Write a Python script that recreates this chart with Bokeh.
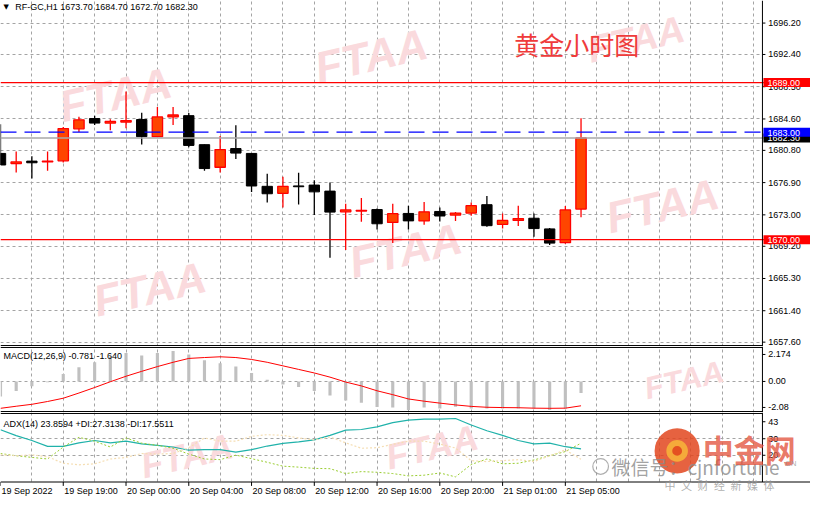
import math
from bokeh.plotting import figure
from bokeh.layouts import column
from bokeh.models import Range1d, FixedTicker, Span, Label, ColumnDataSource, BoxAnnotation
from bokeh.core.properties import value
from bokeh.embed import file_html
from bokeh.resources import INLINE

# ---------------- data ----------------
bar_index = list(range(38))
opens  = [1680.43, 1679.20, 1679.50, 1679.40, 1679.53, 1683.40, 1684.65, 1684.10, 1684.22, 1684.53,
          1682.46, 1684.85, 1685.00, 1681.49, 1678.76, 1681.02, 1680.43, 1676.45, 1675.60, 1676.50,
          1676.60, 1675.87, 1673.37, 1673.45, 1673.64, 1672.08, 1673.17, 1672.27, 1673.41, 1672.97,
          1673.21, 1674.23, 1671.85, 1672.32, 1672.59, 1671.30, 1669.63, 1673.70]
highs  = [1683.95, 1680.67, 1680.08, 1680.67, 1683.63, 1684.88, 1685.00, 1684.57, 1687.93, 1685.35,
          1686.05, 1686.05, 1685.32, 1681.50, 1682.54, 1683.83, 1680.43, 1677.97, 1677.62, 1678.09,
          1677.19, 1676.92, 1674.34, 1675.05, 1673.76, 1674.34, 1674.11, 1674.54, 1673.88, 1673.33,
          1674.50, 1675.28, 1673.17, 1674.11, 1673.17, 1671.42, 1674.07, 1684.70]
lows   = [1679.03, 1678.13, 1677.39, 1678.33, 1679.34, 1683.01, 1683.86, 1683.24, 1683.48, 1681.52,
          1682.40, 1683.86, 1681.17, 1678.33, 1678.13, 1679.77, 1675.75, 1674.50, 1673.90, 1674.26,
          1672.97, 1667.82, 1668.76, 1672.16, 1671.22, 1669.58, 1671.22, 1671.80, 1672.20, 1672.27,
          1672.90, 1671.57, 1671.34, 1671.65, 1670.36, 1669.34, 1669.51, 1672.70]
closes = [1679.03, 1679.40, 1679.30, 1679.50, 1683.44, 1684.50, 1684.10, 1684.30, 1684.41, 1682.46,
          1684.85, 1685.08, 1681.40, 1678.60, 1680.90, 1680.47, 1676.49, 1675.55, 1676.45, 1676.40,
          1675.78, 1673.33, 1673.60, 1673.55, 1671.92, 1673.14, 1672.27, 1673.37, 1672.86, 1673.21,
          1674.11, 1671.69, 1672.32, 1672.55, 1671.34, 1669.58, 1673.60, 1682.30]

macd_main = [-1.02, -0.65, -0.33, -0.06, 0.50, 0.96, 1.29, 1.66, 1.92, 1.75,
             1.92, 2.05, 1.81, 1.42, 1.22, 1.01, 0.57, 0.11, -0.20, -0.37,
             -0.65, -0.95, -1.28, -1.44, -1.72, -1.76, -1.92, -1.76, -1.83, -1.70,
             -1.83, -1.83, -1.83, -1.83, -1.83, -1.93, -1.83, -0.781]
macd_signal = [-1.81, -1.67, -1.54, -1.35, -1.13, -0.78, -0.41, -0.02, 0.35, 0.68,
               1.00, 1.29, 1.55, 1.61, 1.66, 1.61, 1.48, 1.29, 1.05, 0.81,
               0.57, 0.29, -0.04, -0.30, -0.63, -0.89, -1.18, -1.33, -1.46, -1.58,
               -1.68, -1.74, -1.76, -1.77, -1.80, -1.81, -1.80, -1.640]

adx = [35.41, 31.88, 28.94, 25.41, 25.41, 27.53, 28.94, 27.53, 28.53, 26.94,
       26.00, 25.00, 23.06, 23.41, 23.41, 21.88, 23.41, 25.59, 27.18, 28.12,
       29.29, 32.06, 35.18, 35.59, 37.18, 39.71, 41.29, 41.88, 41.88, 42.24,
       38.35, 34.82, 32.06, 28.94, 26.94, 27.35, 25.18, 23.8594]
plus_di = [21.06, 19.71, 18.71, 17.76, 25.00, 30.88, 28.53, 25.00, 30.47, 27.35,
           26.00, 24.24, 20.71, 17.76, 17.35, 20.12, 17.94, 15.76, 13.41, 12.82,
           12.06, 11.88, 8.94, 10.12, 9.71, 8.94, 7.53, 7.94, 9.29, 6.94,
           14.41, 17.76, 14.82, 15.18, 17.18, 19.71, 22.24, 27.3138]
minus_di = [20.29, 19.71, 20.29, 19.12, 15.18, 14.24, 14.82, 17.76, 18.71, 21.06,
            20.71, 21.06, 24.59, 30.47, 28.53, 28.53, 31.47, 32.47, 32.06, 30.47,
            29.29, 31.06, 27.53, 24.24, 24.59, 26.59, 28.53, 28.53, 26.76, 24.41,
            16.76, 16.18, 16.76, 17.35, 16.18, 19.71, 23.24, 17.5511]

price_ticks = [1657.60, 1661.40, 1665.30, 1669.20, 1673.00, 1676.90, 1680.80, 1684.60, 1688.50, 1692.40, 1696.20]
macd_scale_labels = [2.174, 0.0, -2.08]
adx_scale_labels = ["43", "30", "20"]
adx_levels = [30, 20]
time_tick_bars = [0, 4, 8, 12, 16, 20, 24, 28, 32, 36]
time_labels = ["19 Sep 2022", "19 Sep 19:00", "20 Sep 00:00", "20 Sep 04:00", "20 Sep 08:00",
               "20 Sep 12:00", "20 Sep 16:00", "20 Sep 20:00", "21 Sep 01:00", "21 Sep 05:00"]
level_lines = [1689.00, 1670.00]
alert_level = 1683.00
bid_level = closes[-1]

# ---------------- layout (reference pixels -> data) ----------------
W, H = 810, 499
SY = H / 515.0
BAR_PX = 16.0                 # reference pixels per bar
AX_K = 777 / BAR_PX           # right price-axis line position (bars)
END_K = 826 / BAR_PX
xr = Range1d(0, END_K)

H1 = round(357.5 * SY)
H2 = round(68 * SY)
H3 = H - H1 - H2

FONT = "Liberation Sans"
FS = "9px"
GRID = "#a4a4a4"
WM = "#fadadd"


def y1(px):       # main panel: price
    return 1698.93 - px / 8.541


def y2(px):       # MACD panel
    return (393.5 - px) / 15.3


def y3(px):       # ADX panel
    return 30 - (px - 452.5) / 1.7


def make_fig(h, ytop, ybot):
    p = figure(width=W, height=h, x_range=xr, y_range=Range1d(ybot, ytop), output_backend="svg",
               toolbar_location=None, min_border=0, x_axis_location=None, y_axis_location=None)
    p.background_fill_color = "white"
    p.border_fill_color = "white"
    p.outline_line_color = None
    p.xgrid.ticker = FixedTicker(ticks=list(range(0, 49, 2)))
    p.xgrid.grid_line_color = GRID
    p.xgrid.grid_line_dash = "3 3"
    p.ygrid.grid_line_color = GRID
    p.ygrid.grid_line_dash = "3 3"
    return p


def mask_axis(p, bottom=None):
    p.add_layout(BoxAnnotation(left=AX_K, fill_color="white", fill_alpha=1, line_color=None, level="underlay"))
    if bottom is not None:
        p.add_layout(BoxAnnotation(top=bottom, fill_color="white", fill_alpha=1, line_color=None, level="underlay"))


def watermark(p, xpx, ypos, size="44px"):
    p.add_layout(Label(x=xpx / BAR_PX, y=ypos, text="FTAA", text_font=FONT, text_font_style="bold italic",
                       text_font_size=size, text_color=WM, text_align="center", text_baseline="middle",
                       angle=math.radians(13), level="underlay"))


def axis_text(p, ys, texts):
    p.text(x=[(AX_K * BAR_PX + 6) / BAR_PX] * len(ys), y=ys, text=texts, text_font=value(FONT),
           text_font_size=value(FS), text_color="black", text_baseline="middle", text_align="left")
    p.segment(x0=[AX_K] * len(ys), x1=[AX_K + 3 / BAR_PX] * len(ys), y0=ys, y1=ys, line_color="black", line_width=1)


# ---------------- main price panel ----------------
p1 = make_fig(H1, y1(0), y1(357.5))
p1.ygrid.ticker = FixedTicker(ticks=price_ticks)
mask_axis(p1)
for (wx, wy, ws) in [(378, 57, "44px"), (117, 97, "44px"), (648, 40, "38px"), (675, 212, "44px"),
                     (413, 258, "44px"), (152, 298, "44px")]:
    watermark(p1, wx, y1(wy), ws)

up = [i for i in bar_index if closes[i] >= opens[i]]
dn = [i for i in bar_index if closes[i] < opens[i]]


def src(idx):
    return ColumnDataSource(dict(
        x=[bar_index[i] for i in idx],
        hi=[highs[i] for i in idx], lo=[lows[i] for i in idx],
        top=[max(opens[i], closes[i]) for i in idx], bot=[min(opens[i], closes[i]) for i in idx]))


su, sd = src(up), src(dn)
p1.segment(x0="x", y0="lo", x1="x", y1="hi", source=sd, line_color="black", line_width=1.3)
p1.segment(x0="x", y0="lo", x1="x", y1="hi", source=su, line_color="#ff0000", line_width=1.3)
p1.vbar(x="x", width=0.66, top="top", bottom="bot", source=sd, fill_color="black", line_color="black")
p1.vbar(x="x", width=0.66, top="top", bottom="bot", source=su, fill_color="#ff4500", line_color="#ff0000",
        line_width=1.3)

for lv in level_lines:
    p1.add_layout(Span(location=lv, dimension="width", line_color="#ff0000", line_width=1.3))
p1.add_layout(Span(location=bid_level, dimension="width", line_color="#a8a8a8", line_width=1.5))
p1.add_layout(Span(location=alert_level, dimension="width", line_color="#0000ff", line_width=1.3, line_dash="16 8"))

axis_text(p1, price_ticks, ["%.2f" % t for t in price_ticks])
p1.add_layout(Span(location=AX_K, dimension="height", line_color="black", line_width=1))
p1.segment(x0=[0], x1=[AX_K], y0=[y1(356.5)], y1=[y1(356.5)], line_color="black", line_width=1)


def tag(level, bg):
    p1.add_layout(Label(x=AX_K, y=level, text="%.2f" % level, text_font=FONT, text_font_size=FS,
                        text_color="white", background_fill_color=bg, text_baseline="middle",
                        text_align="left", x_offset=1,
                        padding=dict(left=4, right=14, top=2, bottom=1)))


tag(bid_level, "black")
tag(alert_level, "#0000ff")
for lv in level_lines:
    tag(lv, "#ff0000")

p1.add_layout(Label(x=3 / BAR_PX, y=y1(7), text="\u25bc", text_font="DejaVu Sans", text_font_size="7px",
                    text_color="black", text_baseline="middle"))
p1.add_layout(Label(x=15 / BAR_PX, y=y1(7),
                    text="RF-GC,H1  %.2f %.2f %.2f %.2f" % (opens[-1], highs[-1], lows[-1], closes[-1]),
                    text_font=FONT, text_font_size=FS, text_color="black", text_baseline="middle"))
p1.add_layout(Label(x=524 / BAR_PX, y=y1(45), text="黄金小时图", text_font="Noto Sans CJK SC",
                    text_font_size="25px", text_color="#ef3b3b", text_baseline="middle"))

# ---------------- MACD panel ----------------
p2 = make_fig(H2, y2(357.5), y2(425.5))
p2.ygrid.ticker = FixedTicker(ticks=[0])
mask_axis(p2)
watermark(p2, 697, y2(392), size="31px")
p2.vbar(x=bar_index, width=0.2, top=macd_main, bottom=0, fill_color="#c0c0c0", line_color=None)
p2.line(x=bar_index, y=macd_signal, line_color="#ff0000", line_width=1)
axis_text(p2, [y2(365.7), 0.0, y2(420.3)],
          ["%.3f" % macd_scale_labels[0], "%.2f" % macd_scale_labels[1], "%.2f" % macd_scale_labels[2]])
p2.add_layout(Span(location=AX_K, dimension="height", line_color="black", line_width=1))
p2.segment(x0=[0, 0], x1=[AX_K, AX_K], y0=[y2(358.5), y2(424.5)], y1=[y2(358.5), y2(424.5)],
           line_color="black", line_width=1)
p2.add_layout(Label(x=3 / BAR_PX, y=y2(367.7),
                    text="MACD(12,26,9) %.3f %.3f" % (macd_main[-1], macd_signal[-1]),
                    text_font=FONT, text_font_size=FS, text_color="black", text_baseline="middle"))

# ---------------- ADX panel + time axis ----------------
p3 = make_fig(H3, y3(425.5), y3(515))
p3.ygrid.ticker = FixedTicker(ticks=adx_levels)
mask_axis(p3, bottom=y3(497))
watermark(p3, 440, y3(461), size="36px")
watermark(p3, 190, y3(470), size="36px")
p3.line(x=bar_index, y=adx, line_color="#20b2aa", line_width=1.2)
p3.line(x=bar_index, y=plus_di, line_color="#9acd32", line_width=1, line_dash="2 2")
p3.line(x=bar_index, y=minus_di, line_color="#f5deb3", line_width=1.2, line_dash="2 2")
axis_text(p3, [y3(435)] + adx_levels, adx_scale_labels)
p3.segment(x0=[AX_K], x1=[AX_K], y0=[y3(497)], y1=[y3(425.5)], line_color="black", line_width=1)
p3.segment(x0=[0, 0], x1=[AX_K, END_K], y0=[y3(426.5), y3(497)], y1=[y3(426.5), y3(497)],
           line_color="black", line_width=1)
p3.add_layout(Label(x=3 / BAR_PX, y=y3(437.3),
                    text="ADX(14) %.4f +DI:%.4f -DI:%.4f" % (adx[-1], plus_di[-1], minus_di[-1]),
                    text_font=FONT, text_font_size=FS, text_color="black", text_baseline="middle"))

# time axis (ticks + labels)
p3.segment(x0=time_tick_bars, x1=time_tick_bars, y0=[y3(497)] * len(time_tick_bars),
           y1=[y3(501)] * len(time_tick_bars), line_color="black", line_width=1)
p3.text(x=[b + 1 / BAR_PX for b in time_tick_bars], y=[y3(506.5)] * len(time_tick_bars), text=time_labels,
        text_font=value(FONT), text_font_size=value(FS), text_color="black",
        text_baseline="middle", text_align="left")

# 中金网 watermark
p3.circle(x=[612 / BAR_PX], y=[y3(481)], radius=8 / BAR_PX, fill_color=None, line_color="#9a9a9a",
          line_width=1.2, line_alpha=0.8)
p3.add_layout(Label(x=623 / BAR_PX, y=y3(481), text="微信号：cjnfortune", text_font="Noto Sans CJK SC",
                    text_font_size="19px", text_color="#8a8a8a", text_alpha=0.8, text_baseline="middle"))
p3.circle(x=[690 / BAR_PX], y=[y3(465)], radius=23 / BAR_PX, fill_color="#e2471f", line_color=None, alpha=0.85)
p3.circle(x=[690 / BAR_PX], y=[y3(465)], radius=11 / BAR_PX, fill_color="#f6b23a", line_color=None, alpha=0.9)
p3.circle(x=[690 / BAR_PX], y=[y3(465)], radius=5 / BAR_PX, fill_color="#e2471f", line_color=None, alpha=0.9)
p3.add_layout(Label(x=716 / BAR_PX, y=y3(463), text="中金网", text_font="Noto Sans CJK SC",
                    text_font_style="bold", text_font_size="31px", text_color="#e3553f", text_alpha=0.8,
                    text_baseline="middle"))
p3.add_layout(Label(x=800 / BAR_PX, y=y3(478), text="CN", text_font=FONT,
                    text_font_size="8px", text_color="#9a9a9a", text_alpha=0.8, text_baseline="middle"))
p3.add_layout(Label(x=677 / BAR_PX, y=y3(500), text="中\u2002文\u2002财\u2002经\u2002新\u2002媒\u2002体",
                    text_font="Noto Sans CJK SC", text_font_size="11px", text_color="#9a9a9a", text_alpha=0.8,
                    text_baseline="middle"))

layout = column(p1, p2, p3, spacing=0)
open("out.html", "w").write(file_html(layout, INLINE))
